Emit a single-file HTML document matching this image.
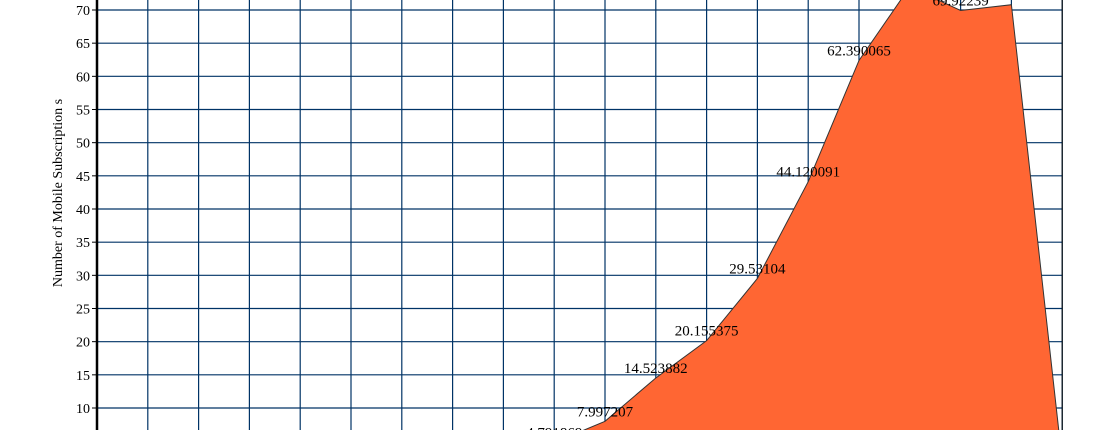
<!DOCTYPE html>
<html><head><meta charset="utf-8"><style>
html,body{margin:0;padding:0;background:#fff;overflow:hidden;width:1095px;height:430px}
svg{display:block;font-family:"Liberation Serif",serif;overflow:hidden}
</style></head><body>
<svg id="chart" width="1095" height="430" viewBox="0 0 1095 430" xmlns="http://www.w3.org/2000/svg">
<g id="grid"></g>
<g id="area"></g>
<g id="labels"></g>
<g id="yaxis"></g>
<text transform="translate(62,193) rotate(-90)" text-anchor="middle" font-size="14" fill="#000">Number of Mobile Subscription s</text>
</svg>
<script>
const categories = [0,1,2,3,4,5,6,7,8,9,10,11,12,13,14,15,16,17,18,19];
const values = [0.5,0.8,1.0,1.3,1.6,2.0,2.5,3.0,3.8,4.791869,7.997207,14.523882,20.155375,29.53104,44.120091,62.390065,73.5,69.92239,70.8,2.0];
const labelText = ["","","","","","","","","","4.791869","7.997207","14.523882","20.155375","29.53104","44.120091","62.390065","","69.92239","",""];
const yTicks = [10,15,20,25,30,35,40,45,50,55,60,65,70];
const NS="http://www.w3.org/2000/svg";
const x0=97, dx=50.8;
function xs(i){return x0+i*dx;}
function ys(v){return 408-(v-10)*(398/60);}
function mk(tag,attrs,parent){const e=document.createElementNS(NS,tag);for(const k in attrs)e.setAttribute(k,attrs[k]);parent.appendChild(e);return e;}
const grid=document.getElementById('grid'),area=document.getElementById('area'),labels=document.getElementById('labels'),yaxis=document.getElementById('yaxis');
for(let i=0;i<=19;i++){
  const l=mk('line',{x1:xs(i),x2:xs(i),y1:0,y2:430,stroke:'#003366','stroke-width':1.2},grid);
  
  
}
for(let v=10;v<=75;v+=5){
  const l=mk('line',{x1:x0,x2:xs(19),y1:ys(v),y2:ys(v),stroke:'#003366','stroke-width':1.2},grid);
  
  
}
let d='M'+xs(0)+','+ys(0);
categories.forEach((c,i)=>{d+=' L'+xs(c)+','+ys(values[i]);});
d+=' L'+xs(categories[categories.length-1])+','+ys(0)+' Z';
const p=mk('path',{d:d,fill:'#FF6633',stroke:'#333','stroke-width':1},area);


categories.forEach((c,i)=>{
  if(!labelText[i])return;
  const t=mk('text',{x:xs(c),y:ys(values[i])-5,'text-anchor':'middle','font-size':15,fill:'#000'},labels);
  t.textContent=labelText[i];
  
  
});
const ax=mk('line',{x1:x0,x2:x0,y1:0,y2:430,stroke:'#000','stroke-width':2.5},yaxis);


const rb=mk('line',{x1:xs(19),x2:xs(19),y1:0,y2:430,stroke:'#000','stroke-width':1},yaxis);


yTicks.forEach(v=>{
  const tk=mk('line',{x1:92,x2:x0,y1:ys(v),y2:ys(v),stroke:'#000','stroke-width':1},yaxis);
  
  
  const t=mk('text',{x:90,y:ys(v)+5,'text-anchor':'end','font-size':14,fill:'#000'},yaxis);
  t.textContent=v;
  
  
});
</script>
</body></html>
